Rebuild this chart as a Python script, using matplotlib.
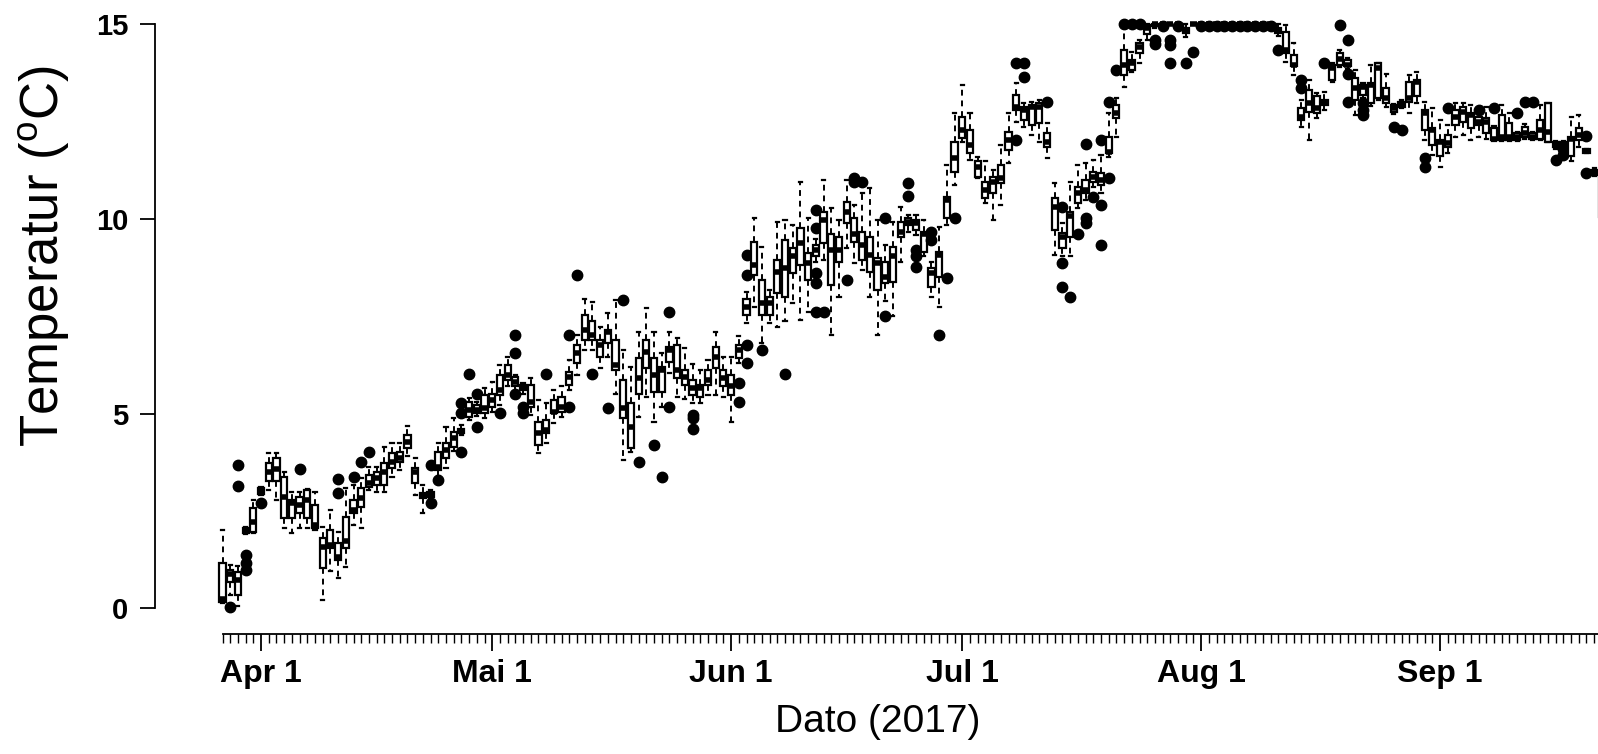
import numpy as np
import matplotlib
matplotlib.use("Agg")
import matplotlib.pyplot as plt

# one box per day, first day 2017-03-27
first_day = np.datetime64("2017-03-27")

q1 = [0.17, 0.69, 0.35, 1.93, 1.97, 2.95, 3.26, 3.26, 2.32, 2.32,
      2.44, 2.32, 2.06, 1.03, 1.54, 1.24, 1.54, 2.44, 2.61, 3.13,
      3.17, 3.17, 3.60, 3.77, 4.11, 3.21, 2.83, 2.87, 3.56, 3.86,
      4.15, 4.50, 4.92, 5.01, 5.01, 5.18, 5.48, 5.87, 5.70, 5.61,
      5.18, 4.20, 4.50, 5.01, 5.05, 5.74, 6.30, 6.89, 6.89, 6.47,
      6.81, 6.12, 4.88, 4.11, 5.52, 6.17, 5.57, 5.57, 6.34, 5.91,
      5.74, 5.48, 5.44, 5.74, 6.17, 5.70, 5.48, 6.42, 7.54, 8.56,
      7.54, 7.54, 8.09, 8.01, 8.61, 8.82, 8.44, 9.04, 9.38, 8.31,
      8.91, 9.89, 9.42, 8.95, 8.65, 8.18, 8.35, 8.39, 9.55, 9.85,
      9.72, 9.16, 8.26, 8.52, 10.02, 11.22, 12.08, 11.69, 11.09, 10.53,
      10.66, 10.92, 11.77, 12.80, 12.55, 12.42, 12.46, 11.86, 9.72, 9.25,
      9.55, 10.41, 10.66, 10.96, 10.88, 11.69, 12.59, 13.70, 13.83, 14.26,
      14.75, 14.95, 15.00, 15.00, 15.00, 14.77, 15.00, 15.00, 15.00, 15.00,
      15.00, 15.00, 15.00, 15.00, 15.00, 15.00, 15.00, 14.77, 14.26, 13.92,
      12.55, 12.76, 12.72, 12.93, 13.57, 13.96, 13.92, 13.06, 13.19, 12.97,
      13.10, 12.97, 12.76, 12.89, 13.02, 13.15, 12.29, 11.90, 11.61, 11.86,
      12.42, 12.50, 12.33, 12.42, 12.20, 12.03, 12.03, 12.03, 12.03, 12.12,
      12.07, 12.07, 11.99, 11.86, 11.86, 11.61, 12.03, 11.70, 11.13, 10.06]

med = [0.25, 0.88, 0.73, 1.99, 2.23, 3.02, 3.51, 3.57, 2.87, 2.70,
       2.66, 2.79, 2.14, 1.59, 1.63, 1.33, 1.72, 2.53, 2.83, 3.21,
       3.34, 3.51, 3.77, 3.86, 4.28, 3.50, 2.88, 2.95, 3.64, 4.07,
       4.37, 4.56, 5.10, 5.10, 5.14, 5.35, 5.61, 5.99, 5.82, 5.68,
       5.31, 4.50, 4.58, 5.05, 5.18, 5.95, 6.55, 7.15, 7.02, 6.77,
       7.11, 6.25, 5.14, 4.67, 5.91, 6.59, 6.00, 6.12, 6.64, 6.12,
       5.95, 5.65, 5.65, 5.87, 6.47, 5.91, 5.70, 6.64, 7.75, 8.82,
       7.84, 7.84, 8.65, 8.74, 9.04, 9.38, 8.86, 9.20, 9.98, 9.21,
       9.21, 10.19, 9.63, 9.34, 9.08, 8.86, 8.52, 9.04, 9.68, 9.93,
       9.89, 9.63, 8.61, 9.08, 10.49, 11.56, 12.29, 11.90, 11.35, 10.75,
       10.96, 11.05, 12.03, 12.89, 12.80, 12.89, 12.89, 11.99, 10.32, 9.55,
       10.08, 10.66, 10.75, 11.09, 11.01, 11.73, 12.72, 13.96, 14.00, 14.43,
       14.90, 15.00, 15.00, 15.00, 15.00, 14.85, 15.00, 15.00, 15.00, 15.00,
       15.00, 15.00, 15.00, 15.00, 15.00, 15.00, 15.00, 14.85, 14.34, 13.96,
       12.63, 12.97, 12.85, 13.00, 13.87, 14.10, 13.96, 13.36, 13.40, 13.45,
       13.87, 13.10, 12.85, 12.95, 13.10, 13.53, 12.72, 12.29, 11.99, 11.95,
       12.63, 12.76, 12.67, 12.50, 12.50, 12.07, 12.12, 12.12, 12.10, 12.20,
       12.12, 12.29, 12.25, 11.93, 11.90, 12.07, 12.16, 11.75, 11.20, 10.50]

q3 = [1.16, 0.99, 0.94, 2.06, 2.57, 3.08, 3.73, 3.86, 3.37, 2.79,
      2.87, 3.04, 2.66, 1.80, 2.01, 1.67, 2.36, 2.79, 3.09, 3.43,
      3.51, 3.73, 4.00, 4.03, 4.45, 3.60, 2.97, 3.00, 4.03, 4.24,
      4.54, 4.62, 5.31, 5.22, 5.48, 5.52, 5.99, 6.25, 5.95, 5.74,
      5.74, 4.80, 4.84, 5.35, 5.44, 6.08, 6.77, 7.54, 7.37, 6.89,
      7.15, 6.89, 5.87, 5.27, 6.42, 6.89, 6.42, 6.21, 6.72, 6.76,
      6.12, 5.87, 5.74, 6.12, 6.72, 6.12, 5.99, 6.77, 7.96, 9.42,
      8.44, 8.01, 8.95, 9.46, 9.25, 9.76, 9.12, 9.34, 10.19, 9.63,
      9.55, 10.45, 10.02, 9.68, 9.55, 9.00, 8.91, 9.29, 9.93, 10.02,
      9.98, 9.68, 8.74, 9.16, 10.58, 11.99, 12.63, 12.29, 11.48, 10.96,
      11.09, 11.39, 12.25, 13.19, 12.89, 12.93, 12.97, 12.22, 10.53, 9.64,
      10.19, 10.83, 11.00, 11.22, 11.18, 12.12, 12.93, 14.34, 14.09, 14.52,
      14.99, 15.00, 15.00, 15.00, 15.00, 14.90, 15.00, 15.00, 15.00, 15.00,
      15.00, 15.00, 15.00, 15.00, 15.00, 15.00, 15.00, 14.90, 14.81, 14.22,
      12.85, 13.32, 13.15, 13.06, 13.96, 14.26, 14.09, 13.62, 13.45, 13.49,
      14.00, 13.36, 12.93, 13.02, 13.53, 13.57, 12.80, 12.33, 12.03, 12.16,
      12.80, 12.89, 12.72, 12.63, 12.59, 12.33, 12.67, 12.46, 12.20, 12.37,
      12.20, 12.55, 12.97, 11.99, 11.99, 12.12, 12.33, 11.80, 11.26, 11.09]

whisk_lo = [0.13, 0.34, 0.05, 1.90, 1.93, 2.92, 3.04, 2.79, 2.06, 1.93,
            2.06, 2.06, 2.01, 0.22, 0.95, 0.77, 1.07, 2.14, 2.06, 3.04,
            3.00, 3.00, 3.38, 3.56, 3.92, 2.91, 2.44, 2.84, 3.40, 3.60,
            4.05, 4.45, 4.85, 4.95, 4.88, 5.05, 5.22, 5.70, 5.57, 5.50,
            4.97, 3.98, 4.24, 4.75, 4.92, 5.61, 5.99, 6.64, 6.64, 6.17,
            6.47, 5.52, 3.81, 4.02, 4.92, 5.44, 4.80, 5.18, 6.04, 5.44,
            5.39, 5.27, 5.27, 5.48, 5.48, 5.44, 4.80, 6.30, 7.32, 7.75,
            6.81, 7.32, 7.24, 7.37, 7.84, 7.41, 7.62, 8.90, 8.95, 7.02,
            8.01, 9.25, 8.86, 8.69, 8.01, 7.02, 7.90, 7.50, 8.91, 9.68,
            9.60, 9.04, 8.01, 7.75, 9.85, 10.88, 11.99, 11.52, 11.05, 10.41,
            9.98, 10.36, 11.43, 12.50, 12.37, 12.16, 11.99, 11.56, 9.08, 9.04,
            9.04, 10.28, 10.49, 10.83, 10.66, 11.60, 12.12, 13.40, 13.79, 14.00,
            14.60, 14.90, 15.00, 15.00, 15.00, 14.69, 15.00, 15.00, 15.00, 15.00,
            15.00, 15.00, 15.00, 15.00, 15.00, 15.00, 15.00, 14.70, 14.04, 13.70,
            12.37, 12.03, 12.59, 12.80, 13.53, 13.90, 13.85, 12.67, 13.10, 12.90,
            13.06, 12.89, 12.70, 12.85, 12.72, 12.97, 12.03, 11.65, 11.35, 11.69,
            12.12, 12.16, 12.03, 12.10, 12.07, 12.00, 12.00, 12.00, 12.00, 12.05,
            12.03, 12.03, 11.99, 11.80, 11.80, 11.48, 11.86, 11.70, 11.10, 10.00]

whisk_hi = [2.01, 1.12, 1.10, 2.10, 2.79, 3.12, 4.00, 4.00, 3.51, 3.00,
            3.00, 3.07, 3.00, 2.10, 2.53, 1.97, 3.09, 3.17, 3.34, 3.64,
            3.64, 4.15, 4.24, 4.24, 4.69, 3.86, 3.17, 3.05, 4.24, 4.67,
            4.88, 4.70, 5.40, 5.30, 5.65, 5.82, 6.25, 6.47, 6.00, 5.80,
            5.91, 5.35, 5.27, 5.61, 5.70, 6.38, 7.02, 7.96, 7.88, 7.24,
            7.58, 7.92, 6.64, 6.21, 7.11, 7.71, 7.11, 6.55, 7.11, 6.94,
            6.68, 6.29, 6.12, 6.38, 7.11, 6.47, 6.47, 7.00, 8.14, 10.02,
            9.29, 8.18, 9.93, 9.98, 9.85, 10.96, 10.02, 9.50, 11.00, 10.28,
            9.98, 11.00, 10.36, 10.66, 10.79, 9.98, 9.34, 9.93, 10.32, 10.10,
            10.10, 9.98, 8.91, 9.80, 11.39, 12.72, 13.44, 12.72, 11.60, 11.48,
            11.26, 11.90, 12.72, 13.49, 12.97, 13.00, 13.05, 12.46, 10.92, 9.89,
            10.96, 11.39, 11.43, 11.52, 11.65, 12.72, 13.10, 14.99, 14.30, 14.60,
            15.00, 15.00, 15.00, 15.00, 15.00, 15.00, 15.00, 15.00, 15.00, 15.00,
            15.00, 15.00, 15.00, 15.00, 15.00, 15.00, 15.00, 15.00, 14.99, 14.52,
            13.06, 13.57, 13.23, 13.27, 14.00, 14.35, 14.15, 13.83, 13.50, 13.96,
            14.00, 13.74, 12.95, 13.05, 13.70, 13.79, 13.02, 12.85, 12.55, 12.42,
            12.97, 12.97, 12.93, 12.70, 12.89, 12.40, 12.93, 12.72, 12.25, 12.45,
            12.25, 12.93, 12.97, 12.00, 12.00, 12.63, 12.67, 11.80, 11.30, 11.20]

outliers = [[], [0.04], [3.68, 3.14], [1.37, 1.17, 0.99], [], [2.70], [], [], [], [],
            [3.57], [], [], [], [], [3.32, 2.97], [], [3.38], [3.77], [4.03],
            [], [], [], [], [], [], [], [3.68, 2.70], [3.30], [],
            [], [5.27, 5.01, 4.03], [6.02], [5.52, 4.67], [], [], [5.01], [], [7.02, 6.55, 5.52], [5.18, 5.01],
            [], [], [6.02], [], [], [7.02, 5.18], [8.56], [], [6.01], [],
            [5.14], [], [7.92], [], [3.77], [], [4.20], [3.38], [7.62, 5.18], [],
            [], [4.97, 4.88, 4.60], [], [], [], [], [], [5.78, 5.31], [9.08, 8.56, 6.77, 6.31], [],
            [6.64], [], [], [6.02], [], [], [], [10.23, 9.76, 8.61, 8.35, 7.62], [7.62], [],
            [], [8.44], [11.05, 10.96], [10.96], [], [], [10.02, 7.50], [], [], [10.94, 10.59],
            [9.21, 9.04, 8.78], [], [9.68, 9.46], [7.02], [8.48], [10.02], [], [], [], [],
            [], [], [], [14.00, 12.03], [14.00, 13.66], [], [], [13.02], [], [10.32, 8.86, 8.26],
            [8.01], [9.63], [11.94, 10.02, 9.89], [10.58], [12.02, 10.36, 9.34], [13.02, 11.05], [13.83], [15.0], [15.0], [15.0],
            [], [14.60, 14.50], [14.97], [14.60, 14.47, 14.00], [14.97], [14.00], [14.30], [14.97], [14.97], [14.97],
            [14.97], [14.97], [14.97], [14.97], [14.97], [14.97], [14.97], [14.34], [], [],
            [13.57, 13.36], [], [], [14.00], [], [14.99], [14.60, 13.74, 13.02], [], [12.97, 12.80, 12.67], [],
            [], [], [12.37], [12.29], [], [], [11.56, 11.35], [], [], [12.85],
            [], [], [], [12.80], [], [12.85], [], [], [12.72], [13.02],
            [13.02], [], [], [11.52], [11.80, 11.65], [], [], [12.13, 11.18], [], []]

month_starts = ["2017-04-01", "2017-05-01", "2017-06-01", "2017-07-01", "2017-08-01", "2017-09-01"]
month_labels = ["Apr 1", "Mai 1", "Jun 1", "Jul 1", "Aug 1", "Sep 1"]

days = np.arange(len(med))
major_pos = [(np.datetime64(d) - first_day).astype(int) for d in month_starts]

stats = [
    dict(med=med[i], q1=q1[i], q3=q3[i], whislo=whisk_lo[i], whishi=whisk_hi[i], fliers=outliers[i])
    for i in range(len(med))
]

plt.rcParams["font.family"] = ["Liberation Sans", "DejaVu Sans"]
plt.rcParams["mathtext.fontset"] = "custom"
plt.rcParams["mathtext.rm"] = "Liberation Sans"

W, H = 1598, 754
fig = plt.figure(figsize=(W / 100, H / 100), dpi=100)

# pixel geometry of the plot region (x axis line at y=634, y axis line at x=155)
x_left_px, x_right_px = 155, 1640
y_bot_px, y_top_px = 634, 5
px_day = 7.706
px_deg = 38.93
x0_px = 222.5   # pixel of first box
y0_px = 608.4   # pixel of 0 degC

ax = fig.add_axes([x_left_px / W, (H - y_bot_px) / H,
                   (x_right_px - x_left_px) / W, (y_bot_px - y_top_px) / H])
ax.set_xlim((x_left_px - x0_px) / px_day, (x_right_px - x0_px) / px_day)
ax.set_ylim((y0_px - y_bot_px) / px_deg, (y0_px - y_top_px) / px_deg)

ax.bxp(stats, positions=days, widths=0.8, capwidths=0.4, patch_artist=True,
       showfliers=True, manage_ticks=False,
       boxprops=dict(facecolor="white", edgecolor="black", linewidth=1.6),
       whiskerprops=dict(color="black", linewidth=1.4, linestyle=(0, (3, 2.5))),
       capprops=dict(color="black", linewidth=1.6),
       medianprops=dict(color="black", linewidth=4, solid_capstyle="butt"),
       flierprops=dict(marker="o", markerfacecolor="black", markeredgecolor="black",
                       markersize=7.5, linestyle="none"))

for side in ["top", "right"]:
    ax.spines[side].set_visible(False)
ax.spines["left"].set_bounds(0, 15)
ax.spines["bottom"].set_bounds(0, ax.get_xlim()[1])
ax.spines["left"].set_linewidth(1.3)
ax.spines["bottom"].set_linewidth(1.3)

ax.set_yticks([0, 5, 10, 15])
ax.set_yticklabels(["0", "5", "10", "15"], fontsize=21, fontweight="bold")
ax.tick_params(axis="y", length=11, width=1.3, pad=8)

ax.set_xticks(major_pos)
ax.set_xticklabels(month_labels, fontsize=23, fontweight="bold")
ax.set_xticks(days, minor=True)
ax.tick_params(axis="x", which="major", length=12.5, width=1.3, pad=5.5)
ax.tick_params(axis="x", which="minor", length=6.5, width=1.0)

fig.text(44 / W, 1 - 256 / H, "Temperatur ($^{\\mathrm{o}}$C)", rotation=90,
         fontsize=38, ha="center", va="center")
fig.text(878 / W, 1 - 722 / H, "Dato (2017)", fontsize=28, ha="center", va="center")

fig.savefig("out.png", dpi=100, facecolor="white")
